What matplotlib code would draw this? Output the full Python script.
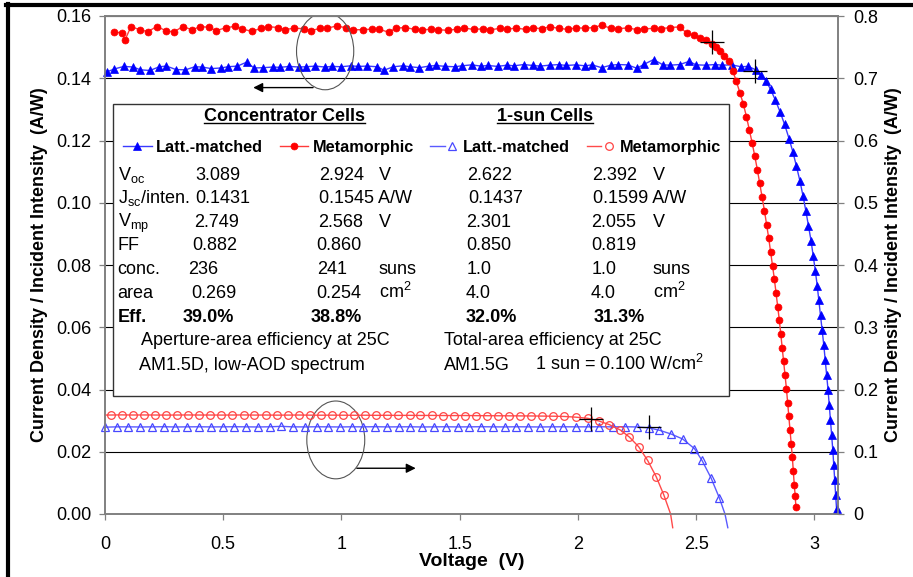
"""IV curves of concentrator and 1-sun cells with a results table"""

import matplotlib
matplotlib.use('Agg')
import matplotlib.pyplot as plt
from matplotlib.lines import Line2D
from matplotlib.patches import Ellipse, Rectangle
from matplotlib.legend_handler import HandlerTuple

plt.rcParams['font.family'] = ['Liberation Sans', 'DejaVu Sans']
plt.rcParams['mathtext.fontset'] = 'custom'
plt.rcParams['mathtext.rm'] = 'Liberation Sans'
plt.rcParams['mathtext.it'] = 'Liberation Sans'
plt.rcParams['mathtext.bf'] = 'Liberation Sans:bold'

# Concentrator cell, lattice-matched (left axis, A/W)
conc_lm_v = [0.01, 0.04, 0.08, 0.12, 0.15, 0.19, 0.23, 0.26, 0.30, 0.34, 0.38,
             0.41, 0.45, 0.49, 0.52, 0.56, 0.60, 0.63, 0.67, 0.71, 0.74, 0.78,
             0.82, 0.85, 0.89, 0.93, 0.96, 1.00, 1.04, 1.07, 1.11, 1.15, 1.18,
             1.22, 1.26, 1.29, 1.33, 1.37, 1.40, 1.44, 1.48, 1.51, 1.55, 1.59,
             1.62, 1.66, 1.70, 1.73, 1.77, 1.81, 1.84, 1.88, 1.92, 1.95, 1.99,
             2.03, 2.06, 2.10, 2.14, 2.17, 2.21, 2.25, 2.28, 2.32, 2.36, 2.39,
             2.43, 2.47, 2.50, 2.54, 2.58, 2.61, 2.65, 2.69, 2.72,
             2.753, 2.774, 2.795, 2.815, 2.835, 2.855, 2.874, 2.893, 2.909, 2.924,
             2.939, 2.952, 2.964, 2.975, 2.986, 2.995, 3.004, 3.012, 3.019, 3.026,
             3.033, 3.040, 3.046, 3.052, 3.058, 3.063, 3.068, 3.073, 3.078, 3.082,
             3.086, 3.090, 3.094]
conc_lm_i = [0.1421, 0.1430, 0.1438, 0.1436, 0.1427, 0.1425, 0.1437, 0.1439, 0.1428, 0.1427, 0.1437,
             0.1436, 0.1431, 0.1433, 0.1437, 0.1439, 0.1452, 0.1433, 0.1434, 0.1436, 0.1435, 0.1438,
             0.1436, 0.1437, 0.1439, 0.1436, 0.1438, 0.1437, 0.1440, 0.1438, 0.1439, 0.1437, 0.1426,
             0.1437, 0.1440, 0.1437, 0.1434, 0.1439, 0.1441, 0.1438, 0.1437, 0.1440, 0.1443, 0.1439,
             0.1441, 0.1438, 0.1442, 0.1440, 0.1444, 0.1441, 0.1439, 0.1442, 0.1444, 0.1441, 0.1443,
             0.1440, 0.1443, 0.1434, 0.1442, 0.1444, 0.1443, 0.1432, 0.1445, 0.1460, 0.1443, 0.1442,
             0.1444, 0.1454, 0.1443, 0.1442, 0.1444, 0.1442, 0.1443, 0.1437, 0.1438,
             0.1427, 0.1411, 0.1392, 0.1364, 0.1330, 0.1292, 0.1252, 0.1206, 0.1164, 0.1118,
             0.1070, 0.1022, 0.0974, 0.0926, 0.0878, 0.0830, 0.0782, 0.0734, 0.0686, 0.0638,
             0.0590, 0.0542, 0.0494, 0.0446, 0.0398, 0.0350, 0.0302, 0.0254, 0.0206, 0.0158,
             0.0110, 0.0062, 0.0016]

# Concentrator cell, metamorphic (left axis, A/W)
conc_mm_v = [0.04, 0.07, 0.085, 0.11, 0.15, 0.18, 0.22, 0.26, 0.29, 0.33, 0.37,
             0.40, 0.44, 0.47, 0.51, 0.55, 0.58, 0.62, 0.66, 0.69, 0.73,
             0.76, 0.80, 0.84, 0.87, 0.91, 0.94, 0.98, 1.02, 1.05, 1.09,
             1.13, 1.16, 1.20, 1.23, 1.27, 1.31, 1.34, 1.38, 1.41, 1.45,
             1.49, 1.52, 1.56, 1.60, 1.63, 1.67, 1.70, 1.74, 1.78, 1.81,
             1.85, 1.88, 1.92, 1.96, 1.99, 2.03, 2.07, 2.10, 2.14, 2.17,
             2.21, 2.25, 2.28, 2.32, 2.35, 2.39, 2.43,
             2.462, 2.490, 2.517, 2.542, 2.566, 2.584, 2.602, 2.619,
             2.640, 2.655, 2.670, 2.685, 2.700, 2.713, 2.725, 2.737, 2.748, 2.759,
             2.769, 2.779, 2.789, 2.798, 2.807, 2.815, 2.823, 2.831, 2.838, 2.845,
             2.852, 2.858, 2.864, 2.870, 2.876, 2.882, 2.887, 2.892, 2.897, 2.902,
             2.907, 2.911, 2.915, 2.919, 2.922]
conc_mm_i = [0.1548, 0.1546, 0.1524, 0.1566, 0.1555, 0.1550, 0.1566, 0.1552, 0.1549, 0.1566, 0.1555,
             0.1566, 0.1564, 0.1553, 0.1562, 0.1567, 0.1558, 0.1551, 0.1560, 0.1566, 0.1563,
             0.1556, 0.1561, 0.1559, 0.1553, 0.1560, 0.1561, 0.1568, 0.1562, 0.1556, 0.1556,
             0.1558, 0.1557, 0.1548, 0.1561, 0.1563, 0.1557, 0.1556, 0.1557, 0.1556, 0.1554,
             0.1558, 0.1561, 0.1557, 0.1559, 0.1556, 0.1560, 0.1558, 0.1561, 0.1557, 0.1562,
             0.1559, 0.1566, 0.1560, 0.1557, 0.1562, 0.1561, 0.1563, 0.1571, 0.1560, 0.1559,
             0.1562, 0.1556, 0.1559, 0.1560, 0.1559, 0.1563, 0.1565,
             0.1544, 0.1538, 0.1530, 0.1522, 0.1510, 0.1500, 0.1488, 0.1472,
             0.1456, 0.1424, 0.1390, 0.1354, 0.1316, 0.1276, 0.1234, 0.1192, 0.1150, 0.1106,
             0.1062, 0.1018, 0.0974, 0.0930, 0.0886, 0.0842, 0.0798, 0.0754, 0.0710, 0.0666,
             0.0622, 0.0578, 0.0534, 0.0490, 0.0446, 0.0402, 0.0358, 0.0314, 0.0270, 0.0226,
             0.0182, 0.0138, 0.0094, 0.0058, 0.0022]

# 1-sun cell, lattice-matched (right axis, A/W)
sun_lm_v = [0.000, 0.050, 0.099, 0.149, 0.199, 0.249, 0.298, 0.348, 0.398, 0.447,
            0.497, 0.547, 0.596, 0.646, 0.696, 0.746, 0.795, 0.845, 0.895, 0.944,
            0.994, 1.044, 1.093, 1.143, 1.193, 1.243, 1.292, 1.342, 1.392, 1.441,
            1.491, 1.541, 1.590, 1.640, 1.690, 1.740, 1.789, 1.839, 1.889, 1.938,
            1.993, 2.042, 2.091, 2.148, 2.201, 2.249, 2.300, 2.345, 2.394, 2.443,
            2.493, 2.525, 2.563, 2.598]
sun_lm_i = [0.1395, 0.1400, 0.1400, 0.1398, 0.1400, 0.1402, 0.1398, 0.1400, 0.1401, 0.1399,
            0.1400, 0.1402, 0.1400, 0.1398, 0.1401, 0.1408, 0.1400, 0.1399, 0.1401, 0.1400,
            0.1398, 0.1401, 0.1400, 0.1402, 0.1399, 0.1400, 0.1401, 0.1398, 0.1400, 0.1401,
            0.1399, 0.1400, 0.1402, 0.1400, 0.1399, 0.1401, 0.1400, 0.1398, 0.1400, 0.1401,
            0.1400, 0.1400, 0.1401, 0.1400, 0.1402, 0.1398, 0.1385, 0.1345, 0.1285, 0.1205,
            0.1050, 0.0860, 0.0580, 0.0260]
sun_lm_tail_v = [2.622, 2.634]
sun_lm_tail_i = [0.0, -0.022]

# 1-sun cell, metamorphic (right axis, A/W)
sun_mm_v = [0.024, 0.071, 0.118, 0.164, 0.211, 0.258, 0.305, 0.352, 0.398, 0.445,
            0.492, 0.539, 0.586, 0.632, 0.679, 0.726, 0.773, 0.820, 0.866, 0.913,
            0.960, 1.007, 1.054, 1.100, 1.147, 1.194, 1.241, 1.288, 1.334, 1.381,
            1.428, 1.475, 1.522, 1.568, 1.615, 1.662, 1.709, 1.756, 1.802, 1.849,
            1.896, 1.943, 1.993, 2.042, 2.088, 2.133, 2.179, 2.218, 2.257, 2.295,
            2.331, 2.363]
sun_mm_i = [0.1590, 0.1592, 0.1590, 0.1591, 0.1590, 0.1589, 0.1590, 0.1591, 0.1590, 0.1590,
            0.1589, 0.1590, 0.1591, 0.1589, 0.1590, 0.1588, 0.1589, 0.1590, 0.1588, 0.1587,
            0.1588, 0.1587, 0.1586, 0.1587, 0.1585, 0.1586, 0.1584, 0.1585, 0.1583, 0.1584,
            0.1582, 0.1581, 0.1582, 0.1580, 0.1579, 0.1578, 0.1577, 0.1576, 0.1575, 0.1573,
            0.1571, 0.1567, 0.1555, 0.1537, 0.1495, 0.1435, 0.1350, 0.1235, 0.1080, 0.0860,
            0.0600, 0.0310]
sun_mm_head_v = [0.0]
sun_mm_head_i = [0.1590]
sun_mm_tail_v = [2.392, 2.401]
sun_mm_tail_i = [0.0, -0.022]

# Maximum power points (LM, MM)
conc_mpp_v = [2.749, 2.568]
conc_mpp_i = [0.1423, 0.1516]
sun_mpp_v = [2.301, 2.055]
sun_mpp_i = [0.1390, 0.1525]

# Table contents
row_labels = [r'V$_\mathregular{oc}$', r'J$_\mathregular{sc}$/inten.', r'V$_\mathregular{mp}$',
              'FF', 'conc.', 'area', 'Eff.']
conc_lm_col = ['3.089', '0.1431', '2.749', '0.882', '236', '0.269', '39.0%']
conc_mm_col = ['2.924', '0.1545 A/W', '2.568', '0.860', '241', '0.254', '38.8%']
sun_lm_col = ['2.622', '0.1437', '2.301', '0.850', '1.0', '4.0', '32.0%']
sun_mm_col = ['2.392', '0.1599 A/W', '2.055', '0.819', '1.0', '4.0', '31.3%']
unit_col = ['V', '', 'V', '', 'suns', r'cm$^\mathregular{2}$', '']
legend_labels = ['Latt.-matched', 'Metamorphic', 'Latt.-matched', 'Metamorphic']

W, H = 913, 577


def fx(px):
    """Pixel x to figure fraction"""
    return px / W


def fy(py):
    """Pixel y (from top) to figure fraction"""
    return 1 - py / H


fig = plt.figure(figsize=(W / 100, H / 100), dpi=100)
ax = fig.add_axes([fx(105), fy(514), (838 - 105) / W, (514 - 16) / H])
ax2 = ax.twinx()

# Concentrator curves on the left axis
conc_lm_line, = ax.plot(conc_lm_v, conc_lm_i, color='#3a3aff', lw=1, marker='^', ms=5.5,
                        mfc='#0000ff', mec='#0000ff', mew=0.5, clip_on=False, zorder=3)
conc_mm_line, = ax.plot(conc_mm_v, conc_mm_i, color='#ff3a3a', lw=1, marker='o', ms=5,
                        mfc='#ff0000', mec='#ff0000', mew=0.5, clip_on=False, zorder=3)
ax.plot(conc_mpp_v, conc_mpp_i, ls='none', marker='+', ms=17, mew=0.9, color='black', zorder=4)

# 1-sun curves on the right axis, the lines run a bit past the markers
sun_lm_line, = ax2.plot(sun_lm_v + sun_lm_tail_v, sun_lm_i + sun_lm_tail_i,
                        color='#5a5aff', lw=1, clip_on=False)
sun_lm_pts, = ax2.plot(sun_lm_v, sun_lm_i, ls='none', marker='^', ms=6, mfc='none',
                       mec='#4848ff', mew=0.9, clip_on=False)
sun_mm_line, = ax2.plot(sun_mm_head_v + sun_mm_v + sun_mm_tail_v,
                        sun_mm_head_i + sun_mm_i + sun_mm_tail_i,
                        color='#ff4a4a', lw=1, clip_on=False)
sun_mm_pts, = ax2.plot(sun_mm_v, sun_mm_i, ls='none', marker='o', ms=5.5, mfc='none',
                       mec='#ff4444', mew=0.9, clip_on=False)
ax2.plot(sun_mpp_v, sun_mpp_i, ls='none', marker='+', ms=17, mew=0.9, color='black')

# Axes, ticks and grid
ax.set_xlim(0, 3.1)
ax.set_ylim(0, 0.16)
ax2.set_ylim(0, 0.8)
ax.set_xticks([0, 0.5, 1, 1.5, 2, 2.5, 3])
ax.set_xticklabels(['0', '0.5', '1', '1.5', '2', '2.5', '3'])
left_ticks = [0, 0.02, 0.04, 0.06, 0.08, 0.10, 0.12, 0.14, 0.16]
ax.set_yticks(left_ticks)
ax.set_yticklabels(['%.2f' % t for t in left_ticks])
right_ticks = [0, 0.1, 0.2, 0.3, 0.4, 0.5, 0.6, 0.7, 0.8]
ax2.set_yticks(right_ticks)
ax2.set_yticklabels(['0'] + ['%.1f' % t for t in right_ticks[1:]])

for a in (ax, ax2):
    for s in a.spines.values():
        s.set_color('#808080')
        s.set_linewidth(1.2)
    a.tick_params(direction='out', length=4.3, width=0.9, color='#808080',
                  labelcolor='black', labelsize=13)
ax.tick_params(axis='y', pad=5.5)
ax.tick_params(axis='x', pad=11.5)
ax2.tick_params(axis='y', pad=6.5)

ax.set_axisbelow(True)
ax.grid(axis='y', color='black', lw=0.8)

ax.set_xlabel('Voltage  (V)', fontsize=14, fontweight='bold', va='center')
ax.xaxis.set_label_coords(0.5, (514 - 562) / 498)
ax.set_ylabel('Current Density / Incident Intensity  (A/W)', fontsize=13,
              fontweight='bold', va='center')
ax.yaxis.set_label_coords((40 - 105) / 733, 0.5)
ax2.set_ylabel('Current Density / Incident Intensity  (A/W)', fontsize=13,
               fontweight='bold', va='center', rotation=90)
ax2.yaxis.set_label_coords((894 - 105) / 733, 0.5)

# Ellipses with arrows pointing to the axis each group uses
ax.add_patch(Ellipse((0.931, 0.1487), 0.242, 0.0248, fill=False, ec='#555555', lw=0.8, zorder=5))
ax.annotate('', xy=(0.627, 0.137), xytext=(0.880, 0.137),
            arrowprops=dict(arrowstyle='-|>', color='black', lw=1, mutation_scale=14,
                            shrinkA=0, shrinkB=0))
ax.add_patch(Ellipse((0.976, 0.0238), 0.245, 0.0250, fill=False, ec='#555555', lw=0.8, zorder=5))
ax.annotate('', xy=(1.314, 0.0147), xytext=(1.065, 0.0147),
            arrowprops=dict(arrowstyle='-|>', color='black', lw=1, mutation_scale=14,
                            shrinkA=0, shrinkB=0))

# Results box
ax.add_patch(Rectangle(((113 - 105) / 733, (514 - 396) / 498), (729 - 113) / 733,
                       (396 - 104) / 498, transform=ax.transAxes, fc='white',
                       ec='#333333', lw=1, zorder=1))

headers = [fig.text(fx(284), fy(121), 'Concentrator Cells', ha='center', va='baseline',
                    fontsize=13, fontweight='bold'),
           fig.text(fx(545), fy(121), '1-sun Cells', ha='center', va='baseline',
                    fontsize=13, fontweight='bold')]

row_y = [180, 203, 227, 250.5, 273.5, 297.5, 321.5]
col1_x = [195, 195, 194, 192.7, 188, 191.7, 182.7]
col2_x = [319.3, 319.3, 318, 316.7, 317, 316, 310.7]
col3_x = [466.7, 468.3, 466, 466.7, 466.7, 466, 466]
col4_x = [591.7, 592.7, 591, 591.7, 591.7, 591, 593.3]

for k, y in enumerate(row_y):
    weight = 'bold' if k == len(row_y) - 1 else 'normal'
    kw = dict(va='baseline', ha='left', fontsize=13, fontweight=weight)
    fig.text(fx(117.5), fy(y), row_labels[k], **kw)
    fig.text(fx(col1_x[k]), fy(y), conc_lm_col[k], **kw)
    fig.text(fx(col2_x[k]), fy(y), conc_mm_col[k], **kw)
    fig.text(fx(col3_x[k]), fy(y), sun_lm_col[k], **kw)
    fig.text(fx(col4_x[k]), fy(y), sun_mm_col[k], **kw)
    if unit_col[k] and k != 1:
        fig.text(fx(378.5), fy(y), unit_col[k], **kw)
        fig.text(fx(652.7), fy(y), unit_col[k], **kw)

fig.text(fx(140.7), fy(345), 'Aperture-area efficiency at 25C', fontsize=13, va='baseline')
fig.text(fx(139.3), fy(370), 'AM1.5D, low-AOD spectrum', fontsize=13, va='baseline')
fig.text(fx(444), fy(345), 'Total-area efficiency at 25C', fontsize=13, va='baseline')
fig.text(fx(444), fy(370), 'AM1.5G', fontsize=13, va='baseline')
fig.text(fx(535), fy(370), r'1 sun = 0.100 W/cm$^\mathregular{2}$', fontsize=13, va='baseline')

# Underline the two headers
renderer = fig.canvas.get_renderer()
for t in headers:
    bb = t.get_window_extent(renderer)
    fig.add_artist(Line2D([bb.x0 / W, bb.x1 / W], [fy(123.3), fy(123.3)],
                          transform=fig.transFigure, color='black', lw=1))

fig.legend([conc_lm_line, conc_mm_line, (sun_lm_line, sun_lm_pts), (sun_mm_line, sun_mm_pts)],
           legend_labels, loc='center left', bbox_to_anchor=(fx(123), fy(147)), ncol=4,
           frameon=False, prop=dict(weight='bold', size=11.7), handlelength=1.78,
           handletextpad=0.25, columnspacing=1.02, borderpad=0, borderaxespad=0,
           numpoints=1, handler_map={tuple: HandlerTuple(ndivide=None)})

# Heavy frame on the top and left edges
fig.add_artist(Line2D([fx(6), 1], [fy(5.3), fy(5.3)], transform=fig.transFigure,
                      color='black', lw=3))
fig.add_artist(Line2D([fx(8), fx(8)], [fy(3.5), 0], transform=fig.transFigure,
                      color='black', lw=3))

fig.savefig('out.png', dpi=100)
